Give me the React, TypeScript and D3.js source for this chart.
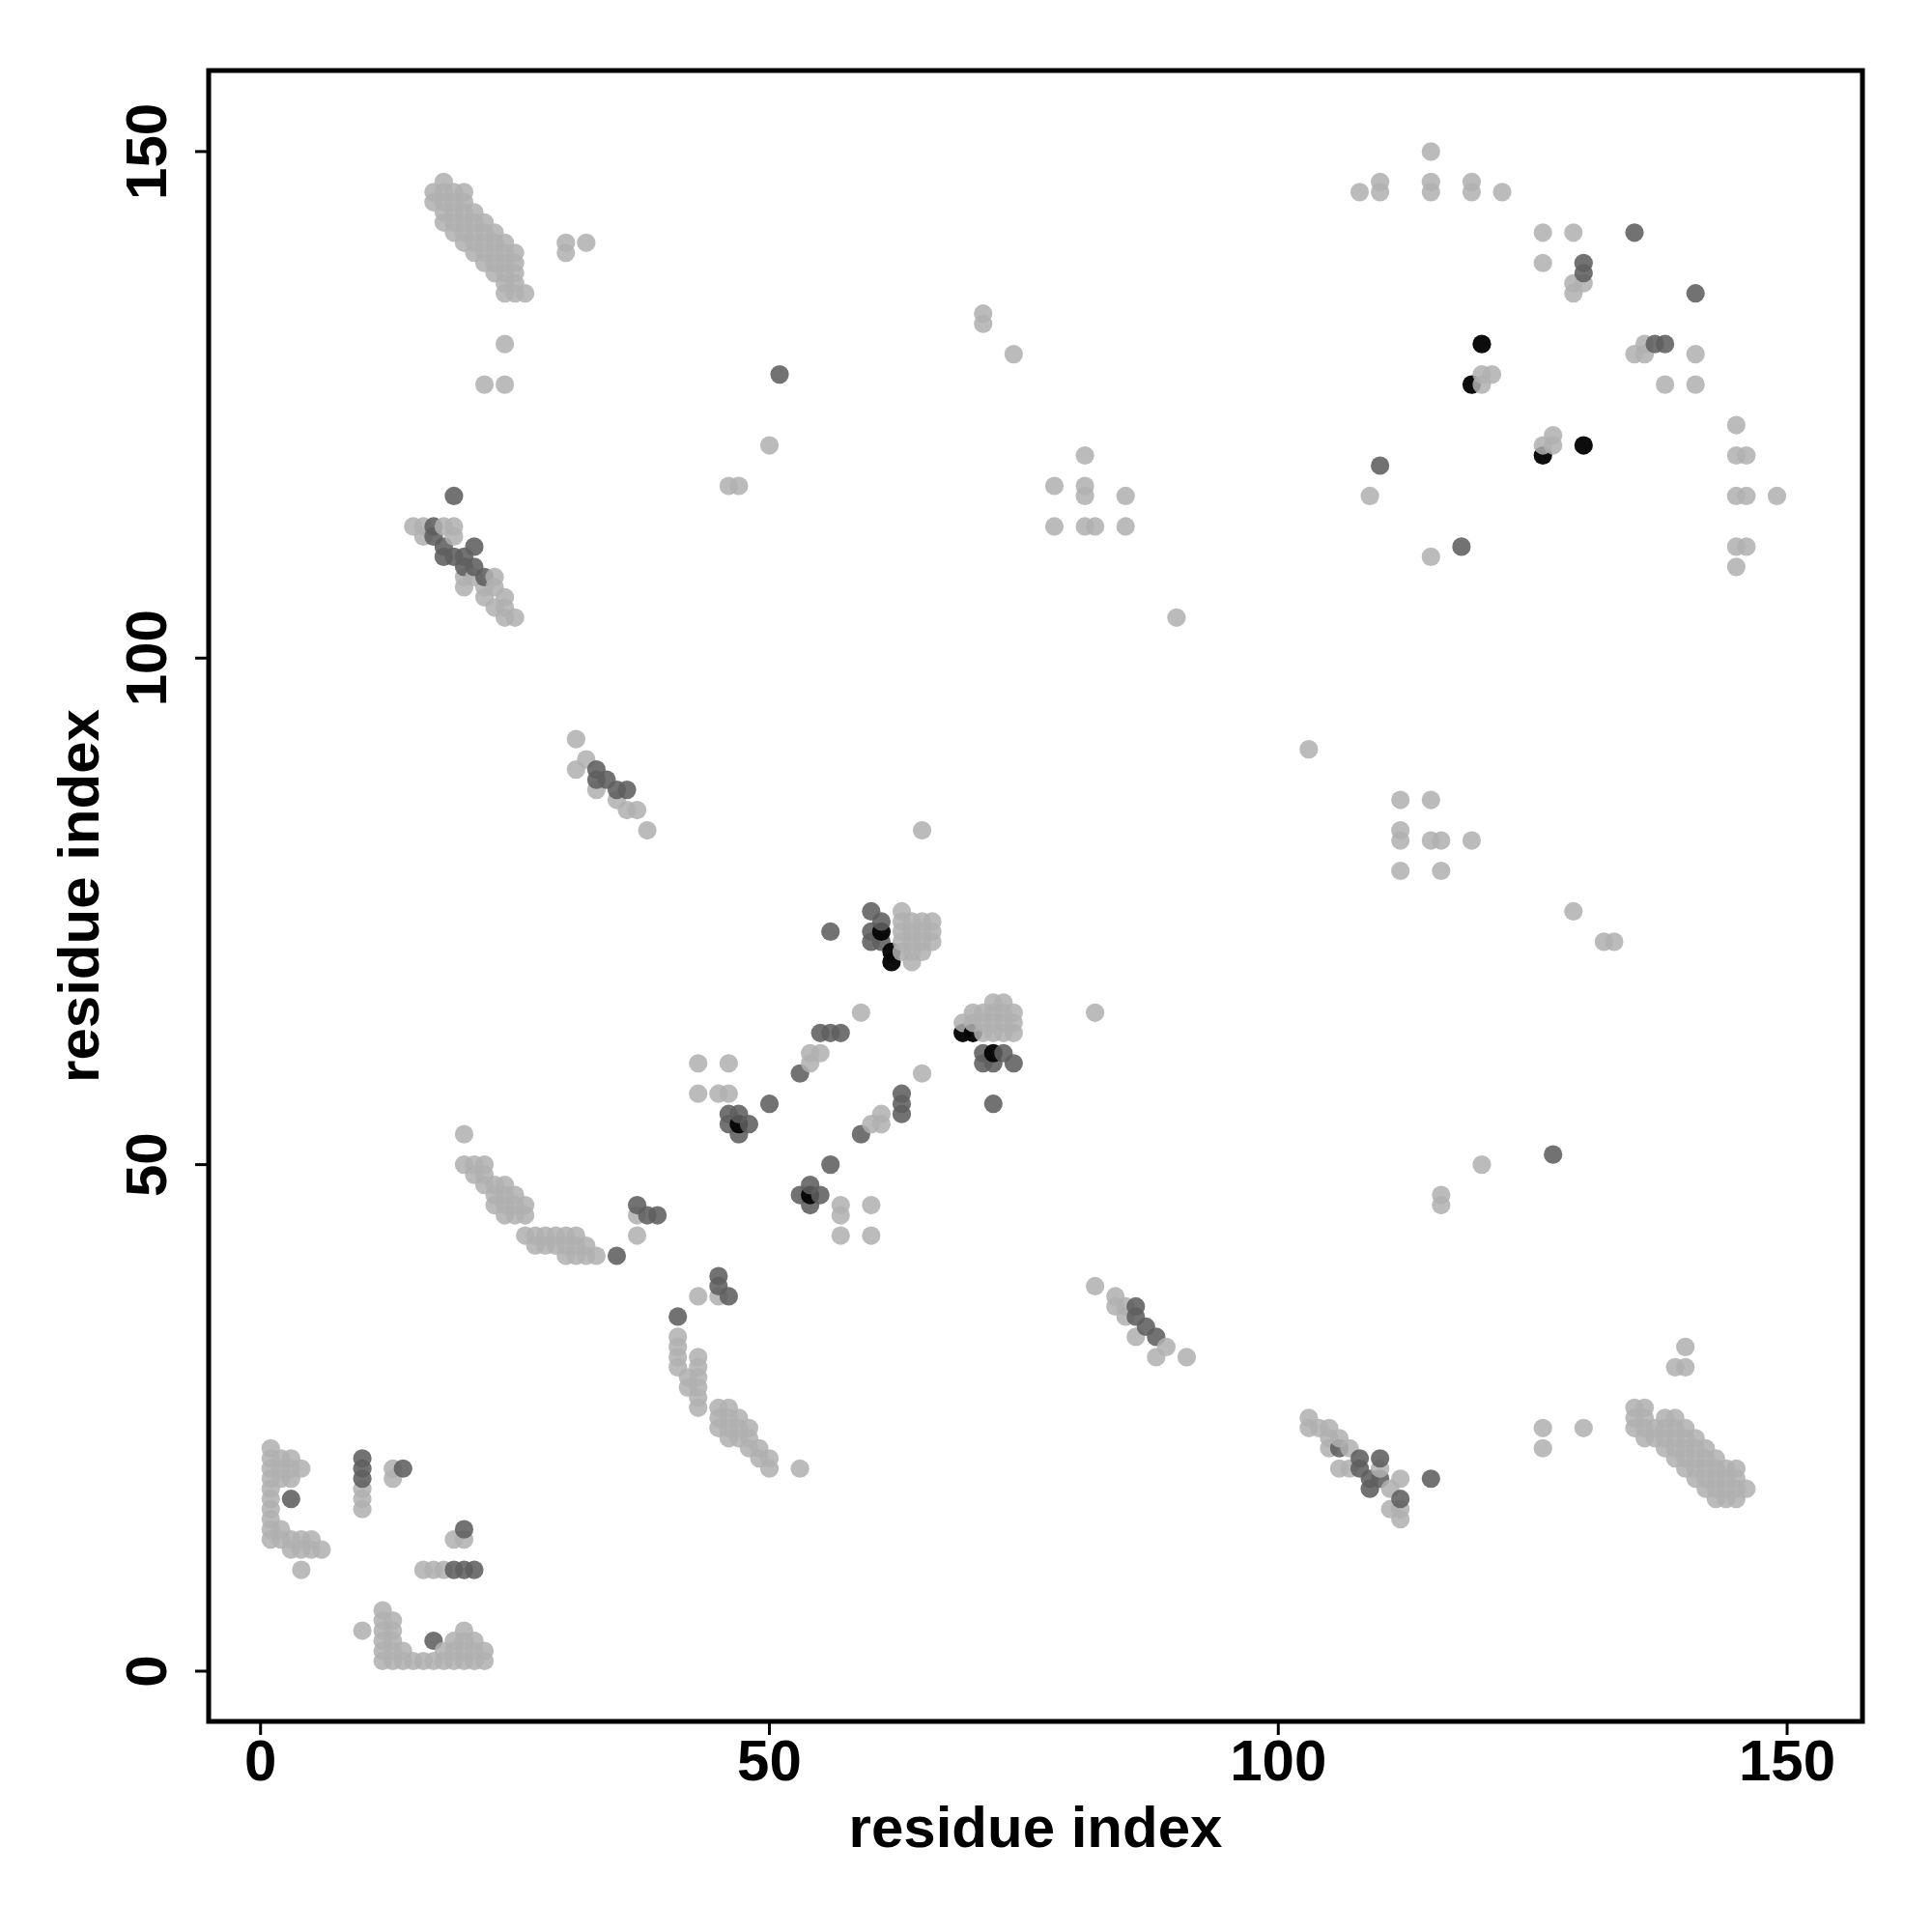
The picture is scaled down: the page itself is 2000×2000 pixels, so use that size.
import React from 'react';
import * as d3 from 'd3';

const xTicks = [0, 50, 100, 150];
const yTicks = [0, 50, 100, 150];
const xTitle = 'residue index';
const yTitle = 'residue index';

// contacts: [residue i, residue j]
const lightContacts: [number, number][] = [
  // bottom-left block
  [1,13],[1,14],[1,15],[1,16],[1,17],[1,18],[1,19],[1,20],[1,21],[1,22],
  [2,13],[2,14],[2,19],[2,20],[2,21],
  [3,12],[3,13],[3,19],[3,20],[3,21],
  [4,10],[4,12],[4,13],[4,20],
  [5,12],[5,13],[6,12],
  [10,16],[10,17],[10,18],[13,19],[13,20],[19,13],[20,13],
  [16,10],[17,10],[18,10],
  [10,4],
  [12,1],[12,2],[12,3],[12,4],[12,5],[12,6],
  [13,1],[13,2],[13,3],[13,4],[13,5],
  [14,1],[14,2],[15,1],[16,1],[17,1],[18,1],[19,1],[20,1],[21,1],[22,1],
  [18,2],[19,2],[19,3],[20,2],[20,3],[20,4],[21,2],[21,3],[22,2],
  // top-left band
  [18,147],
  [17,146],[18,146],[19,146],[20,146],
  [17,145],[18,145],[19,145],[20,145],
  [18,144],[19,144],[20,144],[21,144],
  [18,143],[19,143],[20,143],[21,143],[22,143],
  [19,142],[20,142],[21,142],[22,142],[23,142],
  [20,141],[21,141],[22,141],[23,141],[24,141],
  [21,140],[22,140],[23,140],[24,140],[25,140],
  [22,139],[23,139],[24,139],[25,139],
  [23,138],[24,138],[25,138],
  [24,137],[25,137],
  [24,136],[25,136],[26,136],
  [30,141],[30,140],[32,141],
  [24,131],[22,127],[24,127],
  [50,121],[46,117],[47,117],
  // band near 105-113
  [15,113],[16,113],[18,113],[19,113],[16,112],[19,112],
  [20,108],[21,108],[23,108],[20,107],[22,107],[23,107],
  [22,106],[24,106],[23,105],[24,105],[24,104],[25,104],
  // band near 83-92
  [31,92],[32,90],[31,89],[33,87],[35,86],[36,85],[37,85],[38,83],
  // arc 41-53
  [20,53],[20,50],[21,50],[22,50],[21,49],[22,49],
  [22,48],[23,48],[24,48],[23,47],[24,47],[25,47],
  [23,46],[24,46],[25,46],[26,46],[24,45],[25,45],[26,45],
  [26,43],[27,43],[28,43],[29,43],[30,43],[31,43],
  [27,42],[28,42],[29,42],[30,42],[31,42],[32,42],
  [30,41],[31,41],[32,41],[33,41],
  [37,45],[37,43],
  // lower middle
  [43,37],[45,37],
  [41,33],[41,32],[41,31],[41,30],[42,29],[42,28],
  [43,31],[43,30],[43,29],[43,28],[43,27],[43,26],
  [45,26],[46,26],[45,25],[46,25],[47,25],
  [45,24],[46,24],[47,24],[48,24],[46,23],[47,23],[48,23],
  [48,22],[49,22],[49,21],[50,21],[50,20],[53,20],
  // centre
  [65,83],[59,65],
  [63,75],[63,74],[64,74],[65,74],[66,74],
  [63,73],[64,73],[65,73],[66,73],
  [63,72],[64,72],[65,72],[66,72],
  [63,71],[64,71],[65,71],[64,70],
  [54,61],[55,61],[54,60],[65,59],[61,55],[60,54],[61,54],
  [43,60],[46,60],[43,57],[45,57],[46,57],
  [57,46],[57,45],[60,46],[57,43],[60,43],
  [72,66],[73,66],[70,65],[71,65],[72,65],[73,65],[74,65],
  [69,64],[70,64],[71,64],[72,64],[73,64],[74,64],
  [71,63],[72,63],[73,63],[74,63],
  [82,65],
  // 82-91 diagonal
  [82,38],[84,37],[84,36],[85,36],[85,35],[86,33],[89,32],[88,31],[91,31],
  // 103-115 diagonal
  [103,25],[103,24],[104,24],[105,24],[105,23],[106,23],[105,22],[107,22],
  [106,20],[107,20],[110,20],[112,19],[111,18],[111,16],[112,16],[112,15],
  // right lower
  [126,24],[126,22],[130,24],[140,32],[139,30],[140,30],
  [135,26],[136,26],
  [135,25],[136,25],[138,25],[139,25],
  [135,24],[136,24],[137,24],[138,24],[139,24],[140,24],
  [136,23],[137,23],[138,23],[139,23],[140,23],[141,23],
  [138,22],[139,22],[140,22],[141,22],[142,22],
  [139,21],[140,21],[141,21],[142,21],[143,21],
  [140,20],[141,20],[142,20],[143,20],[144,20],[145,20],
  [141,19],[142,19],[143,19],[144,19],[145,19],
  [142,18],[143,18],[144,18],[145,18],[146,18],
  [143,17],[144,17],[145,17],
  // middle right
  [120,50],[116,47],[116,46],
  [103,91],[112,86],[115,86],[112,83],[112,82],[115,82],[116,82],[119,82],
  [112,79],[116,79],[129,75],[132,72],[133,72],
  // upper middle
  [71,134],[71,133],[74,130],[81,120],[78,117],[81,117],[81,116],[85,116],
  [78,113],[81,113],[82,113],[85,113],[90,104],
  // top right
  [108,146],[110,147],[110,146],[115,150],[115,147],[115,146],[119,147],[119,146],[122,146],
  [126,142],[129,142],[126,139],[129,137],[130,137],[129,136],
  [120,128],[121,128],[120,127],
  [135,130],[136,131],[136,130],[141,130],[138,127],[141,127],
  [126,121],[127,122],[127,121],
  [109,116],[115,110],
  [145,123],[145,120],[146,120],[145,116],[146,116],[149,116],[145,111],[146,111],[145,109],
];

const darkContacts: [number, number][] = [
  [3,17],[10,19],[10,20],[10,21],[14,20],[20,14],[19,10],[20,10],[21,10],[17,3],
  [51,128],[19,116],
  [17,113],[17,112],[18,111],[21,111],[18,110],[19,110],[20,110],[20,109],[21,109],[22,108],
  [33,89],[34,88],[33,88],[35,87],[36,87],
  [37,46],[38,45],[39,45],[35,41],
  [45,39],[45,38],[46,37],[41,35],
  [56,73],[60,75],[61,74],[60,73],[60,72],[61,72],
  [55,63],[56,63],[57,63],[53,59],[63,57],[63,56],[63,55],[59,53],
  [46,55],[47,55],[46,54],[48,54],[47,53],[50,56],[56,50],
  [54,48],[53,47],[55,47],[54,46],
  [71,61],[73,61],[71,60],[72,60],[74,60],[72,56],
  [86,36],[86,35],[87,34],[88,33],
  [106,22],[108,21],[110,21],[108,20],[109,19],[109,18],[110,19],[112,17],[115,19],
  [127,51],
  [135,142],[130,139],[130,138],[141,136],[137,131],[138,131],[110,119],[118,111],
];

const blackContacts: [number, number][] = [
  [61,73],[62,70],[62,71],[47,54],[54,47],[69,63],[70,63],[72,61],
  [120,131],[119,127],[126,120],[130,121],
];

const FONT = '"Liberation Sans", Arial, Helvetica, sans-serif';

export default function App() {
  const W = 2000, H = 2000;
  const left = 216, right = 1928, top = 73, bottom = 1782;
  const x = d3.scaleLinear().domain([-5.1, 157.4]).range([left, right]);
  const y = d3.scaleLinear().domain([-4.96, 158.0]).range([bottom, top]);

  const pts = [
    ...lightContacts.map(([a, b]) => ({ a, b, level: 0 })),
    ...darkContacts.map(([a, b]) => ({ a, b, level: 1 })),
    ...blackContacts.map(([a, b]) => ({ a, b, level: 2 })),
  ].sort((p, q) => p.a - q.a || p.b - q.b);

  const fills = ['#b0b0b0', '#5e5e5e', '#050505'];
  const ops = [0.86, 0.88, 0.97];

  return (
    <svg width={W} height={H} style={{ position: 'absolute', left: 0, top: 0, background: '#fff' }}>
      <rect x={0} y={0} width={W} height={H} fill="#fff" />
      <g>
        {pts.map((p, i) => (
          <circle key={i} cx={x(p.a)} cy={y(p.b)} r={9.6} fill={fills[p.level]} fillOpacity={ops[p.level]} />
        ))}
      </g>
      <rect x={left} y={top} width={right - left} height={bottom - top} fill="none" stroke="#000" strokeWidth={5} />
      {xTicks.map((t) => (
        <g key={'xt' + t}>
          <line x1={x(t)} x2={x(t)} y1={bottom} y2={bottom + 14} stroke="#000" strokeWidth={3} />
          <text x={x(t)} y={1843} textAnchor="middle" fontFamily={FONT} fontWeight="bold" fontSize={60}>{t}</text>
        </g>
      ))}
      {yTicks.map((t) => (
        <g key={'yt' + t}>
          <line x1={left - 14} x2={left} y1={y(t)} y2={y(t)} stroke="#000" strokeWidth={3} />
          <text transform={`translate(172,${y(t)}) rotate(-90)`} textAnchor="middle" fontFamily={FONT} fontWeight="bold" fontSize={60}>{t}</text>
        </g>
      ))}
      <text x={(left + right) / 2} y={1912} textAnchor="middle" fontFamily={FONT} fontWeight="bold" fontSize={60}>{xTitle}</text>
      <text transform={`translate(102,${(top + bottom) / 2}) rotate(-90)`} textAnchor="middle" fontFamily={FONT} fontWeight="bold" fontSize={60}>{yTitle}</text>
    </svg>
  );
}
